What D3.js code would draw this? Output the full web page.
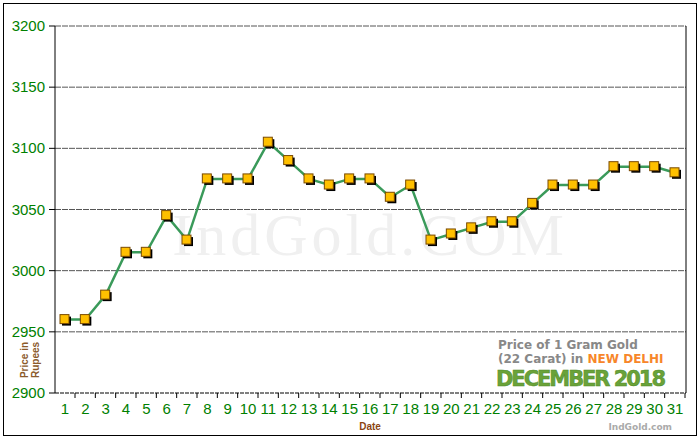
<!DOCTYPE html><html><head><meta charset="utf-8"><script src="https://cdn.jsdelivr.net/npm/d3@7"></script>
<style>body{margin:0;background:#fff}</style></head><body><svg id="c" width="700" height="440"></svg>
<script>
const days=d3.range(1,32);
const prices=[2960,2960,2980,3015,3015,3045,3025,3075,3075,3075,3105,3090,3075,3070,3075,3075,3060,3070,3025,3030,3035,3040,3040,3055,3070,3070,3070,3085,3085,3085,3080];
const yTicks=[2900,2950,3000,3050,3100,3150,3200];
const svg=d3.select("#c");
svg.append("rect").attr("x",3.5).attr("y",3.5).attr("width",693).attr("height",432).attr("fill","#fff").attr("stroke","#000");
const L=55,R=686,T=26,B=393;
const x=d3.scaleLinear().domain([1,31]).range([65,675]);
const y=d3.scaleLinear().domain([2900,3200]).range([B,T]);
svg.append("text").attr("x",370).attr("y",255).attr("text-anchor","middle").attr("font-family","Liberation Serif").attr("font-size",60).attr("fill","#f0f0f0").attr("letter-spacing",4).text("IndGold.COM");
yTicks.forEach(t=>{ if(t>2900) svg.append("line").attr("x1",L).attr("x2",R).attr("y1",y(t)).attr("y2",y(t)).attr("stroke","#555").attr("stroke-dasharray","6,1");
 svg.append("line").attr("x1",L-6).attr("x2",L).attr("y1",y(t)).attr("y2",y(t)).attr("stroke","#000");
 svg.append("text").attr("x",L-10).attr("y",y(t)+5).attr("text-anchor","end").attr("font-family","Liberation Sans Narrow, Liberation Sans").attr("font-size",15).attr("fill","#008000").text(t);});
svg.append("line").attr("x1",L).attr("x2",L).attr("y1",T).attr("y2",B).attr("stroke","#000");
svg.append("line").attr("x1",R).attr("x2",R).attr("y1",T).attr("y2",B).attr("stroke","#000");
svg.append("line").attr("x1",L).attr("x2",R).attr("y1",B).attr("y2",B).attr("stroke","#000").attr("stroke-dasharray","4,1");
days.forEach(d=>{svg.append("line").attr("x1",x(d)+10).attr("x2",x(d)+10).attr("y1",B).attr("y2",B+5).attr("stroke","#000");
 svg.append("text").attr("x",x(d)).attr("y",B+21).attr("text-anchor","middle").attr("font-family","Liberation Sans Narrow, Liberation Sans").attr("font-size",15).attr("fill","#008000").text(d);});
svg.append("text").attr("x",370).attr("y",430).attr("text-anchor","middle").attr("font-family","Liberation Sans").attr("font-weight","bold").attr("font-size",10).attr("fill","#8b4513").text("Date");
const yl=svg.append("text").attr("transform","translate(28,360) rotate(-90)").attr("text-anchor","middle").attr("font-family","Liberation Sans").attr("font-weight","bold").attr("font-size",10).attr("fill","#8b5a2b");
yl.append("tspan").attr("x",0).attr("dy",0).text("Price in");yl.append("tspan").attr("x",0).attr("dy",11).text("Rupees");
svg.append("rect").attr("x",460).attr("y",333).attr("width",225).attr("height",59).attr("fill","#fff");
const g=svg.append("g").attr("font-family","DejaVu Sans").attr("font-weight","bold");
g.append("text").attr("x",498).attr("y",349).attr("font-size",12).attr("fill","#888").text("Price of 1 Gram Gold");
const t2=g.append("text").attr("x",498).attr("y",363).attr("font-size",12).attr("fill","#888");t2.append("tspan").text("(22 Carat) in ");t2.append("tspan").attr("fill","#f7862a").text("NEW DELHI");
g.append("text").attr("x",496).attr("y",386).attr("font-size",21).attr("fill","#6aa23a").attr("stroke","#4c8a22").attr("stroke-width",0.5).attr("textLength",170).attr("lengthAdjust","spacing").text("DECEMBER 2018");
g.append("text").attr("x",672).attr("y",430).attr("text-anchor","end").attr("font-size",9).attr("fill","#aaa").text("IndGold.com");
svg.append("path").datum(prices).attr("d",d3.line().x((v,i)=>x(days[i])).y(v=>y(v))).attr("fill","none").attr("stroke","#3a9a5a").attr("stroke-width",2.5);
prices.forEach((v,i)=>{svg.append("rect").attr("x",x(days[i])-3).attr("y",y(v)-3).attr("width",9).attr("height",9).attr("fill","#000");
 svg.append("rect").attr("x",x(days[i])-5).attr("y",y(v)-5).attr("width",9).attr("height",9).attr("fill","#ffc000").attr("stroke","#7a4a00").attr("stroke-width",1);});
</script></body></html>
